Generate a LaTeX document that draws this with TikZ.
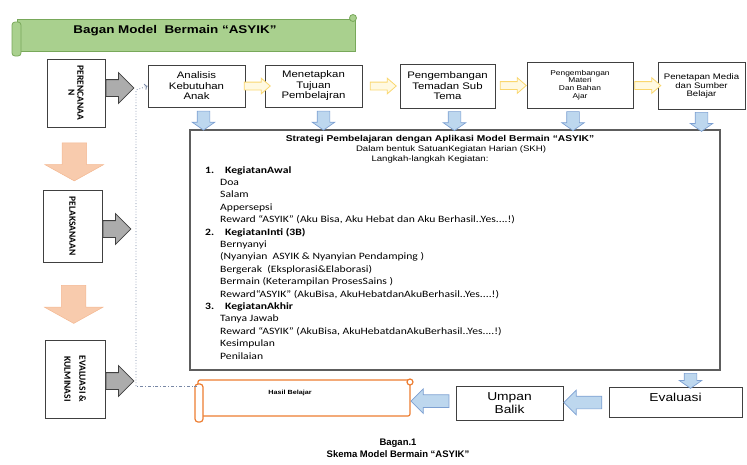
\documentclass[tikz,border=0pt]{standalone}
\usepackage{fontspec}
\setmainfont{Liberation Sans}[FakeStretch=1.2]
\newfontfamily\listfont{Carlito}[FakeStretch=1.2]
\newfontfamily\sidefont{Carlito}
\newfontfamily\capfont{Liberation Sans}
\usetikzlibrary{arrows.meta,shapes.arrows}
\definecolor{leaf}{RGB}{169,208,142}
\definecolor{leafdark}{RGB}{120,168,90}
\definecolor{peach}{RGB}{248,203,173}
\definecolor{peachdark}{RGB}{244,184,145}
\definecolor{lemon}{RGB}{250,215,110}
\definecolor{lemonfill}{RGB}{255,249,225}
\definecolor{sky}{RGB}{189,215,238}
\definecolor{skydark}{RGB}{125,160,210}
\definecolor{scrollorange}{RGB}{237,125,49}
\definecolor{slate}{RGB}{64,64,64}
\definecolor{dotblue}{RGB}{120,135,165}

\begin{document}
\begin{tikzpicture}[x=1pt,y=-1pt,>={To[length=3pt]},
  box/.style={draw=slate, line width=0.9pt, fill=white, inner sep=1pt, align=center, font=\fontsize{9.5}{10.5}\selectfont},
  bigbox/.style={draw=slate!85, line width=1.4pt, fill=white},
  sidebox/.style={draw=slate, line width=0.9pt, fill=white, minimum width=58pt, inner sep=0pt},
  sidetext/.style={rotate=-90, align=center, inner sep=0pt, font=\sidefont\bfseries\fontsize{9.5}{9}\selectfont},
  grayarr/.style={single arrow, draw=slate, fill=gray!65, line width=0.8pt, inner xsep=0pt, inner ysep=8pt, minimum height=28pt, single arrow head extend=7pt, single arrow tip angle=90},
  orarr/.style={single arrow, draw=peachdark, fill=peach, line width=0.5pt, inner xsep=0pt, inner ysep=12pt, rotate=-90, minimum height=38pt, single arrow head extend=17pt, single arrow tip angle=122},
  yelarr/.style={single arrow, draw=lemon, fill=lemonfill, line width=0.8pt, inner xsep=0pt, inner ysep=3.5pt, minimum height=26pt, single arrow head extend=4pt, single arrow tip angle=82},
  bluedown/.style={single arrow, draw=skydark, fill=sky, line width=0.7pt, inner xsep=0pt, inner ysep=6pt, rotate=-90, minimum height=19pt, single arrow head extend=5pt, single arrow tip angle=110},
  blueleft/.style={single arrow, draw=skydark, fill=sky, line width=0.7pt, inner xsep=0pt, inner ysep=6pt, rotate=180, minimum height=38pt, single arrow head extend=6pt, single arrow tip angle=90},
  scrollline/.style={draw=scrollorange, line width=1.2pt}
]
\useasboundingbox (0,0) rectangle (747,464);

% title banner
\node[draw=leafdark, fill=leaf, line width=0.8pt, inner sep=0pt, minimum width=338pt, minimum height=32pt] (banner) at (186,35) {};
\draw[draw=leafdark, fill=leaf, line width=0.8pt, rounded corners=3pt] (12,22) rectangle (21,56);
\draw[draw=leafdark, fill=leaf, line width=0.8pt] (353,18) circle (3.5pt);
\node[font=\bfseries\fontsize{11.2}{13}\selectfont] (bantitle) at (175,31) {Bagan Model\ \ Bermain “ASYIK”};

% left column
\node[sidebox, minimum height=68pt] (plan) at (76,93) {};
\node[sidetext] (plantxt) at (plan.center) {PERENCANAA\\N};
\node[sidebox, minimum width=59pt, minimum height=72pt] (pelak) at (72.5,226) {};
\node[sidetext] (pelaktxt) at (pelak.center) {PELAKSANAAN};
\node[sidebox, minimum width=60pt, minimum height=78pt] (evalk) at (75,379) {};
\node[sidetext, font=\sidefont\bfseries\fontsize{9.5}{15}\selectfont] (evalktxt) at (evalk.center) {EVALUASI \&\\KULMINASI};

\node[grayarr, anchor=tail] (g1) at ([yshift=5pt]plan.east) {};
\node[grayarr, anchor=tail] (g2) at ([yshift=-3pt]pelak.east) {};
\node[grayarr, anchor=tail] (g3) at ([yshift=-2pt]evalk.east) {};
\path (plan) -- (pelak) node[midway, orarr] (o1) {};
\path (pelak) -- (evalk) node[midway, orarr] (o2) {};

% top row
\node[box, minimum width=97pt, minimum height=42pt] (ana) at (196.5,86) {Analisis\\Kebutuhan\\Anak};
\node[box, minimum width=97pt, minimum height=42pt] (tuj) at (313.5,86) {Menetapkan\\Tujuan\\Pembelajran};
\node[box, minimum width=95pt, minimum height=44pt] (tema) at (447.5,86) {Pengembangan\\Temadan Sub\\Tema};
\node[box, minimum width=106pt, minimum height=46pt, font=\fontsize{7}{7.8}\selectfont] (materi) at (580,85) {Pengembangan\\Materi\\Dan Bahan\\Ajar};
\node[box, minimum width=87pt, minimum height=47pt, font=\fontsize{8}{8.7}\selectfont] (media) at (701.5,86) {Penetapan Media\\dan Sumber\\Belajar};
\path (ana) -- (tuj) node[midway, yelarr] (y1) {};
\path (tuj) -- (tema) node[midway, yelarr] (y2) {};
\path (tema) -- (materi) node[midway, yelarr] (y3) {};
\path (materi) -- (media) node[midway, yelarr] (y4) {};

% strategy box
\node[bigbox, minimum width=530pt, minimum height=240pt] (strat) at (455,250) {};
\path ([xshift=7pt]ana.south) -- ([xshift=7pt]ana.south |- strat.north) node[midway, bluedown] (d1) {};
\path ([xshift=10pt]tuj.south) -- ([xshift=10pt]tuj.south |- strat.north) node[midway, bluedown] (d2) {};
\path ([xshift=7pt]tema.south) -- ([xshift=7pt]tema.south |- strat.north) node[midway, bluedown] (d3) {};
\path ([xshift=-7pt]materi.south) -- ([xshift=-7pt]materi.south |- strat.north) node[midway, bluedown] (d4) {};
\path (media.south) -- (media.south |- strat.north) node[midway, bluedown] (d5) {};
\node[font=\bfseries\fontsize{8.5}{10}\selectfont] (head) at (440,139) {Strategi Pembelajaran dengan Aplikasi Model Bermain “ASYIK”};
\node[font=\fontsize{8}{10}\selectfont] (head2) at (451,149.5) {Dalam bentuk SatuanKegiatan Harian (SKH)};
\node[font=\fontsize{8}{10}\selectfont] (head3) at (430,159.5) {Langkah-langkah Kegiatan:};
\node[anchor=north west, align=left, inner sep=0pt, font=\listfont\fontsize{9.7}{12.4}\selectfont] (steps) at (205,166) {%
\makebox[20pt][l]{\textbf{1.}}\textbf{KegiatanAwal}\\
\hspace*{15pt}Doa\\
\hspace*{15pt}Salam\\
\hspace*{15pt}Appersepsi\\
\hspace*{15pt}Reward “ASYIK” (Aku Bisa, Aku Hebat dan Aku Berhasil..Yes....!)\\
\makebox[20pt][l]{\textbf{2.}}\textbf{KegiatanInti (3B)}\\
\hspace*{15pt}Bernyanyi\\
\hspace*{15pt}(Nyanyian\ \ ASYIK \& Nyanyian Pendamping )\\
\hspace*{15pt}Bergerak\ \ (Eksplorasi\&Elaborasi)\\
\hspace*{15pt}Bermain (Keterampilan ProsesSains )\\
\hspace*{15pt}Reward“ASYIK” (AkuBisa, AkuHebatdanAkuBerhasil..Yes....!)\\
\makebox[20pt][l]{\textbf{3.}}\textbf{KegiatanAkhir}\\
\hspace*{15pt}Tanya Jawab\\
\hspace*{15pt}Reward “ASYIK” (AkuBisa, AkuHebatdanAkuBerhasil..Yes....!)\\
\hspace*{15pt}Kesimpulan\\
\hspace*{15pt}Penilaian};

% bottom row
\node[box, minimum width=133pt, minimum height=30pt, text depth=10pt, font=\fontsize{11.5}{13}\selectfont] (eval) at (675.5,402) {Evaluasi};
\node[box, minimum width=107pt, minimum height=34pt, font=\fontsize{11.5}{12.5}\selectfont] (umpan) at (509.5,403) {Umpan\\Balik};
\node[scrollline, fill=white, inner sep=0pt, minimum width=212pt, minimum height=36pt, rounded corners=2pt] (hasil) at (304,398) {};
\draw[scrollline, fill=white, rounded corners=3pt] (195,384) rectangle (203,422);
\draw[scrollline, fill=white] (410,382) circle (3pt);
\node[font=\bfseries\fontsize{6}{8}\selectfont] (hasiltxt) at (290,393) {Hasil Belajar};
\path ([xshift=15pt]eval.north |- strat.south) -- ([xshift=15pt]eval.north) node[midway, bluedown, minimum height=15pt] (d6) {};
\path (eval) -- (umpan) node[midway, blueleft] (l1) {};
\path (umpan) -- (hasil) node[midway, blueleft] (l2) {};

% dotted return line
\coordinate (dotb) at (136,386);
\coordinate (dott) at (136,90);
\draw[dotblue, line width=0.7pt, dash pattern=on 3pt off 2pt on 0.8pt off 2pt] (hasil.west |- dotb) -- (dotb);
\draw[dotblue, line width=0.8pt, dotted, ->] (dotb) -- (dott) -- (ana.west);

\node[font=\capfont\bfseries\fontsize{9.5}{12}\selectfont, align=center] (caption) at (398,448) {Bagan.1\\Skema Model Bermain “ASYIK”};
\end{tikzpicture}
\end{document}
